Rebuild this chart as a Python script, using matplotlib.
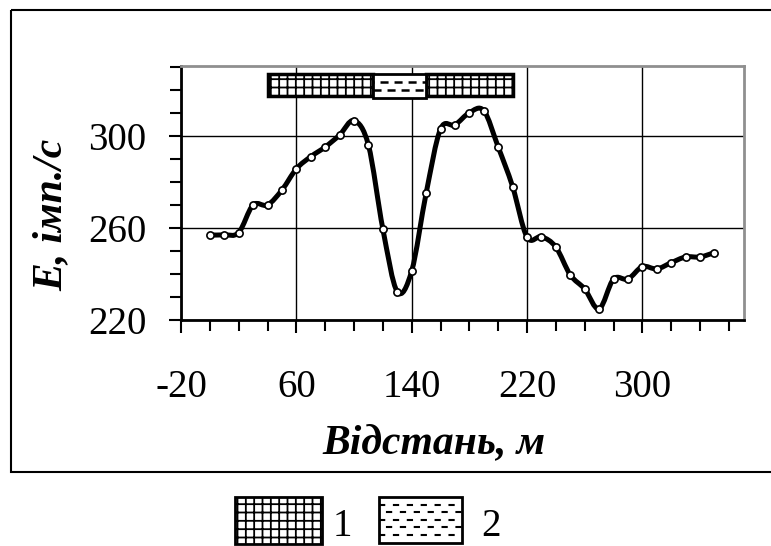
import numpy as np
import matplotlib
matplotlib.use("Agg")
import matplotlib.pyplot as plt
from matplotlib.path import Path
from matplotlib.patches import PathPatch, Rectangle
from matplotlib.lines import Line2D

plt.rcParams['lines.scale_dashes'] = False
plt.rcParams['hatch.linewidth'] = 1.3
SERIF = ['Liberation Serif', 'DejaVu Serif']

# ---------------- data ----------------
distance = [0, 10, 20, 30, 40, 50, 60, 70, 80, 90, 100, 110, 120, 130, 140, 150,
            160, 170, 180, 190, 200, 210, 220, 230, 240, 250, 260, 270, 280, 290,
            300, 310, 320, 330, 340, 350]
intensity = [257, 257, 258, 270, 270, 276.5, 285.7, 291, 295.2, 300.4, 306.7, 296,
             259.6, 232.3, 241.3, 275, 303, 304.8, 310.1, 311, 295.2, 278,
             256, 256.2, 251.7, 239.6, 233.5, 224.8, 237.8, 237.8, 243.2, 242.2,
             244.9, 247.4, 247.4, 249.3]
# geological sections on top of the chart: (start, end, type)
section_start = [40, 113, 150]
section_end = [113, 150, 210]
section_type = [1, 2, 1]
x_ticks = [-20, 60, 140, 220, 300]
y_ticks = [220, 260, 300]
legend_labels = ['1', '2']

W, H, DPI = 771, 546, 100
fig = plt.figure(figsize=(W / DPI, H / DPI), dpi=DPI)

def fx(px):
    return px / W

def fy(py):
    return 1 - py / H

ax = fig.add_axes([fx(181), fy(320), fx(744) - fx(181), fy(66) - fy(320)])
ax.set_xlim(-20, 370.5)
ax.set_ylim(220, 330.4)

# grid
ax.set_xticks(x_ticks)
ax.set_yticks(y_ticks)
ax.set_xticks(np.arange(-20, 371, 20), minor=True)
ax.set_yticks(np.arange(220, 331, 10), minor=True)
ax.grid(True, which='major', color='black', lw=1.0, zorder=0)
ax.set_axisbelow(True)
ax.set_xticklabels([str(v) for v in x_ticks], fontfamily=SERIF, fontsize=28)
ax.set_yticklabels([str(v) for v in y_ticks], fontfamily=SERIF, fontsize=28)
ax.tick_params(axis='both', which='both', direction='out', width=1.5, color='black')
ax.tick_params(axis='both', which='major', length=9)
ax.tick_params(axis='both', which='minor', length=8)
ax.tick_params(axis='x', which='major', pad=26)
ax.tick_params(axis='y', which='major', pad=16)
for s in ['left', 'bottom']:
    ax.spines[s].set_linewidth(2.0)
    ax.spines[s].set_color('black')
for s in ['top', 'right']:
    ax.spines[s].set_linewidth(2.0)
    ax.spines[s].set_color('#8f8f8f')

# smoothed curve (Excel-like Bezier through the points)
xs = np.asarray(distance, float)
ys = np.asarray(intensity, float)
pts = np.column_stack([xs, ys])
n = len(pts)
verts = [pts[0]]
codes = [Path.MOVETO]
for i in range(n - 1):
    p0 = pts[i - 1] if i > 0 else pts[i]
    p1 = pts[i]
    p2 = pts[i + 1]
    p3 = pts[i + 2] if i + 2 < n else pts[i + 1]
    c1 = p1 + (p2 - p0) / 6.0
    c2 = p2 - (p3 - p1) / 6.0
    verts += [c1, c2, p2]
    codes += [Path.CURVE4] * 3
ax.add_patch(PathPatch(Path(verts, codes), facecolor='none', edgecolor='black',
                       lw=3.6, zorder=3, capstyle='round', joinstyle='round'))
ax.plot(xs, ys, ls='none', marker='o', ms=5.2, mfc='white', mec='black',
        mew=1.2, zorder=4)


def dashed_fill(axis, x0, y0, x1, y1, rows, on, off, lw, clip_patch, z):
    ys_r = np.linspace(y0, y1, rows + 2)[1:-1]
    for k, yy in enumerate(ys_r):
        offset = 0 if k % 2 == 0 else (on + off) / 2
        ln = Line2D([x0, x1], [yy, yy], color='black', lw=lw,
                    linestyle=(offset, (on, off)), transform=axis.transData,
                    zorder=z)
        axis.add_artist(ln)
        ln.set_clip_path(clip_patch)


# top sections bar
for a, b, t in zip(section_start, section_end, section_type):
    if t == 1:
        r = Rectangle((a, 317.3), b - a, 327 - 317.3, facecolor='white',
                      edgecolor='black', hatch='++', lw=2.5, zorder=5)
        ax.add_patch(r)
    else:
        r = Rectangle((a, 316.5), b - a, 327 - 316.5, facecolor='white',
                      edgecolor='black', lw=2.0, zorder=7)
        ax.add_patch(r)
        dashed_fill(ax, a, 316.5, b, 327, 2, 5.8, 4.3, 1.8, r, 8)

# overlay axes in pixel coordinates for frame, labels and legend
ov = fig.add_axes([0, 0, 1, 1], zorder=-1)
ov.set_xlim(0, W)
ov.set_ylim(H, 0)
ov.axis('off')
ov.add_patch(Rectangle((10.7, 10), W, 461.7, facecolor='none', edgecolor='black',
                       lw=1.5, clip_on=False))

fig.text(fx(434), fy(443), 'Відстань, м', ha='center', va='center',
         fontfamily=SERIF, fontsize=30, fontweight='bold', fontstyle='italic')
fig.text(fx(52), fy(215), 'E, імп./с', ha='center', va='center', rotation=90,
         fontfamily=SERIF, fontsize=30, fontweight='bold', fontstyle='italic')

# legend
lov = fig.add_axes([0, 0, 1, 1], zorder=5)
lov.set_xlim(0, W)
lov.set_ylim(H, 0)
lov.axis('off')
lr1 = Rectangle((235, 497.3), 86.7, 46.7, facecolor='white', edgecolor='black',
                hatch='++', lw=2.0, zorder=5)
lov.add_patch(lr1)
lov.text(333, 536.5, legend_labels[0], ha='left', va='baseline', fontfamily=SERIF,
         fontsize=28)
lr2 = Rectangle((379.3, 497), 82.4, 45.7, facecolor='white', edgecolor='black',
                lw=2.0, zorder=5)
lov.add_patch(lr2)
dashed_fill(lov, 379.3, 497, 461.7, 542.7, 5, 4.5, 5.5, 1.5, lr2, 6)
lov.text(481, 536.5, legend_labels[1], ha='left', va='baseline', fontfamily=SERIF,
         fontsize=28)

fig.savefig('out.png', dpi=DPI)
